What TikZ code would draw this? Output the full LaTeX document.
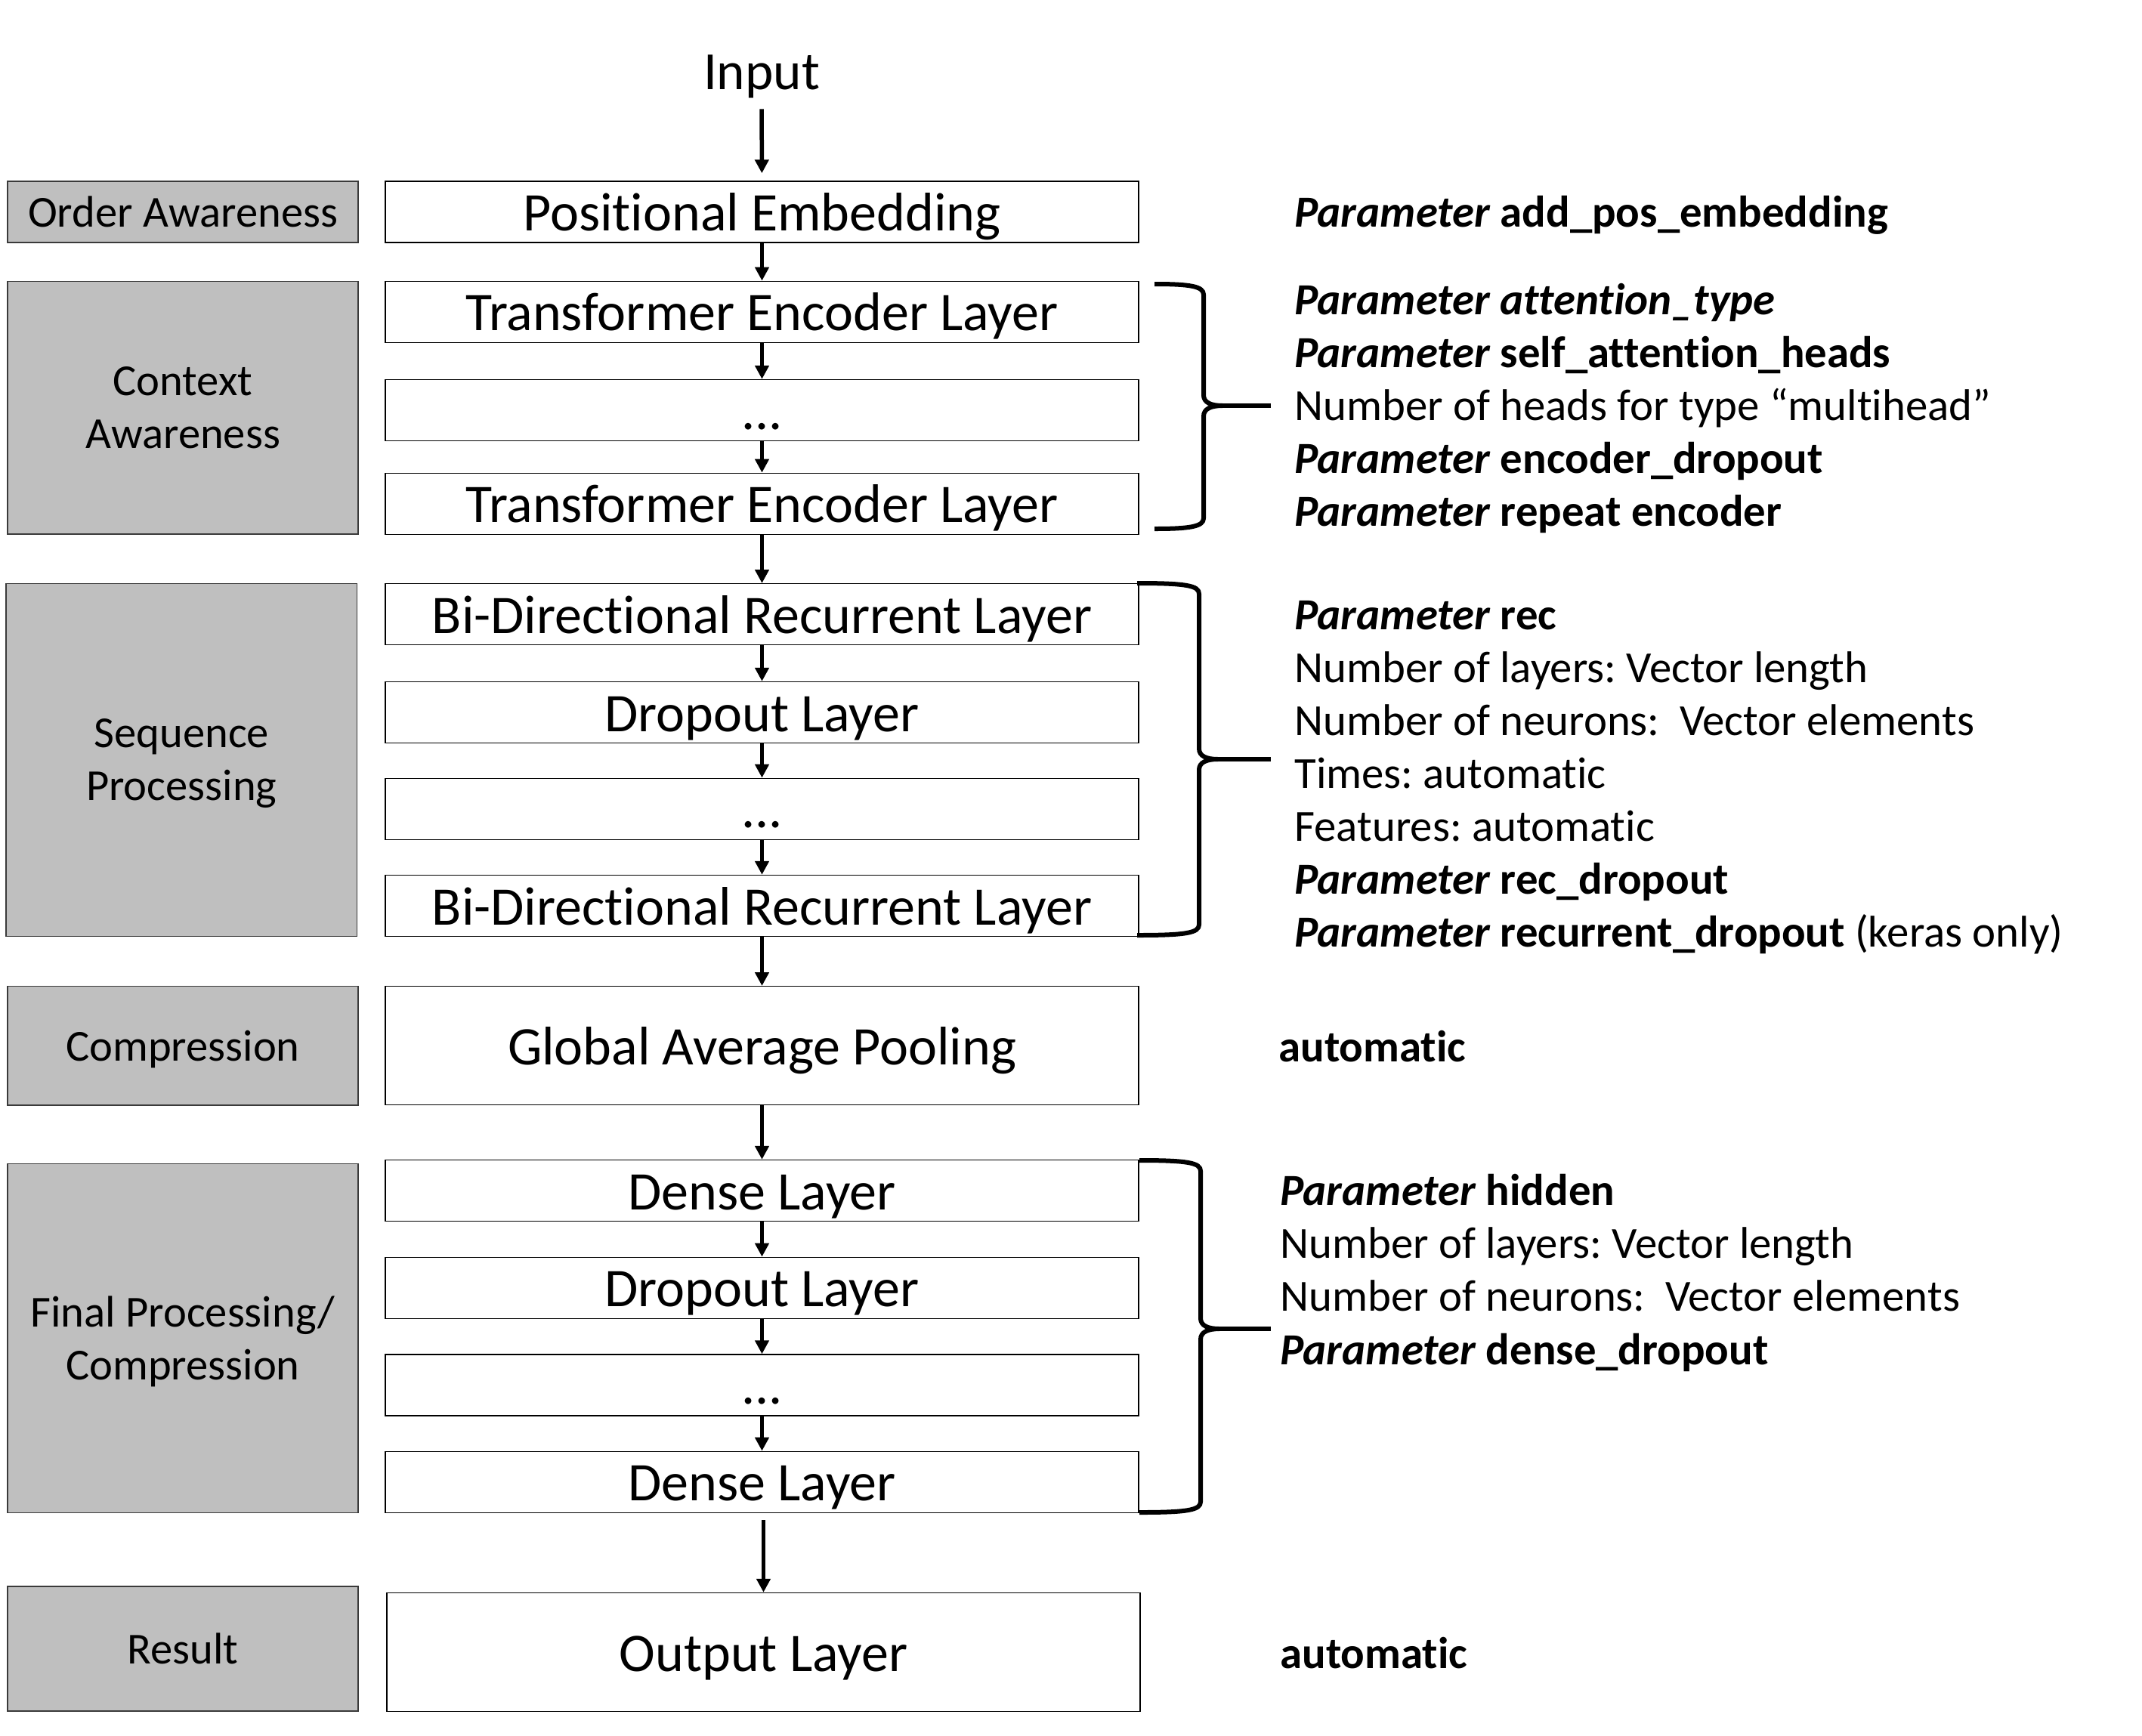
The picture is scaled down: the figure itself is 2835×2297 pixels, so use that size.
\documentclass[tikz,border=0pt]{standalone}
\usepackage{fontspec}
\setmainfont{Carlito}[Ligatures=NoCommon]
\usetikzlibrary{arrows.meta,calc}
\frenchspacing

\definecolor{stagegray}{HTML}{BFBFBF}
\definecolor{stageedge}{HTML}{3A3A3A}

\tikzset{
  layer/.style={draw=black, line width=0.7pt, fill=white, minimum width=498.5pt,
    minimum height=40.5pt, inner sep=0pt,
    font=\fontsize{36pt}{43pt}\selectfont, text height=25pt, text depth=0pt},
  tall/.style={minimum height=78.5pt},
  stage/.style={draw=stageedge, line width=0.6pt, fill=stagegray, minimum width=232pt,
    inner sep=0pt, align=center, text depth=0pt, font=\fontsize{29.3pt}{35pt}\selectfont},
  flow/.style={-{Triangle[width=9pt,length=9pt]}, line width=2.75pt},
  param/.style={anchor=base west, inner sep=0pt, font=\fontsize{29.4pt}{35pt}\selectfont},
  bracket/.style={line width=3pt, line join=round, line cap=butt}
}

% curly bracket: left end x, spine x, tip x, top y, middle y, bottom y
\newcommand\sidebracket[6]{%
  \draw[bracket] (#1,#4) .. controls (#2-18,#4) and (#2,#4+3) .. (#2,#4+14)
    -- (#2,#5-14) .. controls (#2,#5-4) and (#2+10,#5) .. (#2+25,#5)
    .. controls (#2+10,#5) and (#2,#5+4) .. (#2,#5+14)
    -- (#2,#6-14) .. controls (#2,#6-3) and (#2-18,#6) .. (#1,#6);
  \draw[bracket] (#2+22,#5) -- (#3,#5);
}
\newcommand\pname[1]{\textbf{\textit{Parameter}}~\textbf{#1}}

\begin{document}
\begin{tikzpicture}[x=0.5pt, y=-0.5pt]
  \useasboundingbox (0,0) rectangle (2835,2297);

  % input
  \node[anchor=base, inner sep=7pt, font=\fontsize{35.6pt}{42pt}\selectfont] (in) at (1008,118.6) {Input};

  % stage labels
  \node[stage, minimum height=40.5pt]  (oa) at (242,280.5)    {Order Awareness};
  \node[stage, minimum height=167.2pt] (ca) at (242,539.8)    {Context\\Awareness};
  \node[stage, minimum height=233.6pt, minimum width=232.25pt] (sp) at (240.25,1005.9) {Sequence\\Processing};
  \node[stage, minimum height=78.8pt]  (co) at (242,1384.2)   {Compression};
  \node[stage, minimum height=231pt]   (fp) at (242,1771.5)   {Final Processing/\\Compression};
  \node[stage, minimum height=82.5pt]  (re) at (242,2182.5)   {Result};

  % layer stack
  \node[layer] (pe)  at (1008.5,280.5)  {Positional Embedding};
  \node[layer] (te1) at (1008.5,412.8)  {Transformer Encoder Layer};
  \node[layer] (td)  at (1008.5,543)    {...};
  \node[layer] (te2) at (1008.5,666.8)  {Transformer Encoder Layer};
  \node[layer] (bd1) at (1008.5,813.2)  {Bi-Directional Recurrent Layer};
  \node[layer] (dr1) at (1008.5,943)    {Dropout Layer};
  \node[layer] (rd)  at (1008.5,1070.8) {...};
  \node[layer] (bd2) at (1008.5,1199)   {Bi-Directional Recurrent Layer};
  \node[layer, tall] (gap) at (1008.5,1384.2) {Global Average Pooling};
  \node[layer] (de1) at (1008.5,1576)   {Dense Layer};
  \node[layer] (dr2) at (1008.5,1704.8) {Dropout Layer};
  \node[layer] (dd)  at (1008.5,1833.5) {...};
  \node[layer] (de2) at (1008.5,1961.8) {Dense Layer};
  \node[layer, tall] (out) at (1010.5,2187) {Output Layer};

  % flow arrows
  \draw[flow, shorten >=5pt] (in) -- (pe);
  \foreach \a/\b in {pe/te1, te1/td, td/te2, te2/bd1, bd1/dr1, dr1/rd, rd/bd2,
                     bd2/gap, gap/de1, de1/dr2, dr2/dd, dd/de2}
    \draw[flow] (\a) -- (\b);
  \draw[flow, shorten <=4.5pt] (out.north |- de2.south) -- (out.north);

  % brackets
  \sidebracket{1528}{1593}{1682}{376}{537}{700}
  \sidebracket{1505}{1587}{1682}{772}{1005}{1238}
  \sidebracket{1508}{1589}{1682}{1536}{1759}{2002}

  % parameter notes
  \node[param] (p0) at (1713,300) {\pname{add\_pos\_embedding}};

  \node[param] (p1a) at (1713,416)   {\textbf{\textit{Parameter attention\_type}}};
  \node[param] (p1b) at (1713,486)   {\pname{self\_attention\_heads}};
  \node[param] (p1c) at (1713,556)   {Number of heads for type “multihead”};
  \node[param] (p1d) at (1713,626)   {\pname{encoder\_dropout}};
  \node[param] (p1e) at (1713,696.5) {\pname{repeat encoder}};

  \node[param] (p2a) at (1713,833)  {\pname{rec}};
  \node[param] (p2b) at (1713,903)  {Number of layers: Vector length};
  \node[param] (p2c) at (1713,973)  {Number of neurons:\ \ Vector elements};
  \node[param] (p2d) at (1713,1043) {Times: automatic};
  \node[param] (p2e) at (1713,1113) {Features: automatic};
  \node[param] (p2f) at (1713,1183) {\pname{rec\_dropout}};
  \node[param] (p2g) at (1713,1253) {\pname{recurrent\_dropout} (keras only)};

  \node[param] (p3) at (1692,1405) {\textbf{automatic}};

  \node[param] (p4a) at (1694,1595)   {\pname{hidden}};
  \node[param] (p4b) at (1694,1665)   {Number of layers: Vector length};
  \node[param] (p4c) at (1694,1735.6) {Number of neurons:\ \ Vector elements};
  \node[param] (p4d) at (1694,1806)   {\pname{dense\_dropout}};

  \node[param] (p5) at (1694,2208) {\textbf{automatic}};
\end{tikzpicture}
\end{document}
